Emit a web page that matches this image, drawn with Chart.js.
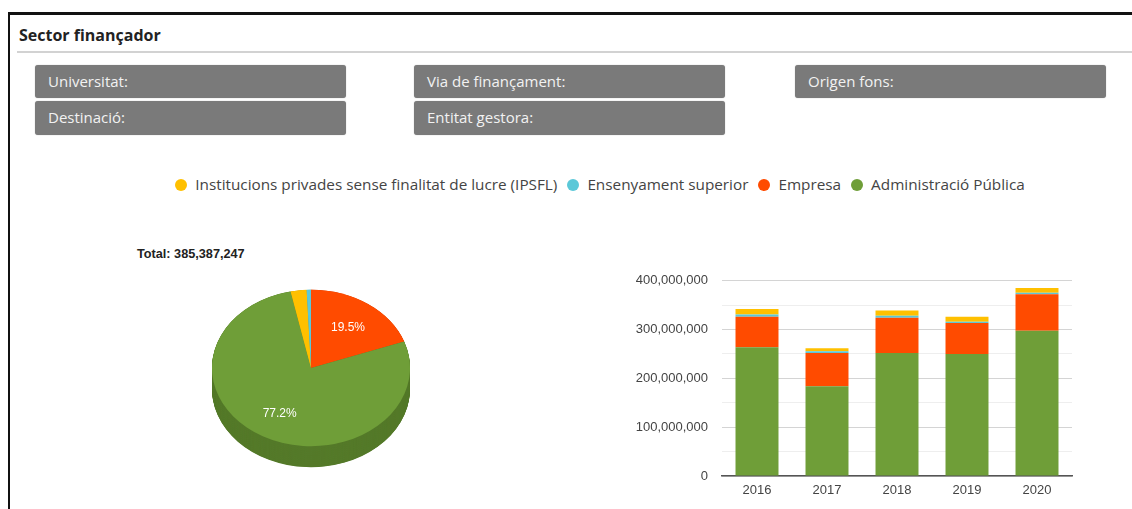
<!DOCTYPE html>
<html>
<head>
<meta charset="utf-8">
<script src="https://cdn.jsdelivr.net/npm/chart.js@4.4.1/dist/chart.umd.min.js"></script>
<style>
  body { margin: 0; background: #fff; width: 1132px; height: 509px; overflow: hidden; position: relative; font-family: 'Open Sans', sans-serif; }
  .frame { position: absolute; left: 8px; top: 12px; right: -20px; bottom: -20px; border-left: 2px solid #111; border-top: 3px solid #111; }
  .title { position: absolute; left: 19px; top: 24px; font-size: 16px; font-weight: 700; color: #222; }
  .rule { position: absolute; left: 17px; top: 51px; right: 0; height: 2px; background: #d2d2d2; }
  .filter { position: absolute; background: #7a7a7a; color: #f2f2f2; border-radius: 3px; font-size: 15px; line-height: 33px; height: 33px; padding-left: 13px; box-sizing: border-box; width: 311px; box-shadow: 0 0 1px #999; }
  .legend { position: absolute; left: 100px; width: 1000px; top: 174px; text-align: center; font-size: 15.3px; color: #444; white-space: nowrap; }
  .legend span.item { margin: 0 5px; }
  .legend i { display: inline-block; width: 12px; height: 12px; border-radius: 50%; margin-right: 8px; vertical-align: -1px; }
  .total { position: absolute; left: 137px; top: 247px; font-family: Arial, 'Liberation Sans', sans-serif; font-weight: bold; font-size: 12.7px; color: #222; }
  #pie { position: absolute; left: 201px; top: 258px; }
  #bars { position: absolute; left: 620px; top: 259px; }
</style>
</head>
<body>
<div class="frame"></div>
<div class="title">Sector finançador</div>
<div class="rule"></div>
<div class="filter" style="left:35px;top:65px;">Universitat:</div>
<div class="filter" style="left:35px;top:101px;height:34px;">Destinació:</div>
<div class="filter" style="left:414px;top:65px;">Via de finançament:</div>
<div class="filter" style="left:414px;top:101px;height:34px;">Entitat gestora:</div>
<div class="filter" style="left:795px;top:65px;">Origen fons:</div>
<div class="legend" id="legend"></div>
<div class="total" id="total"></div>
<canvas id="pie" width="220" height="220"></canvas>
<canvas id="bars" width="470" height="249"></canvas>
<script>
// dades
const years = ['2016', '2017', '2018', '2019', '2020'];
const sectors = ['Institucions privades sense finalitat de lucre (IPSFL)', 'Ensenyament superior', 'Empresa', 'Administració Pública'];
const sectorColors = ['#ffc000', '#5bc8d8', '#ff4b00', '#6f9e38'];
const sideColors = ['#c99800', '#4199a6', '#c23a00', '#557a2a'];

const ipsfl = [11000000, 6500000, 10500000, 10000000, 10018247];
const ensenyament = [4500000, 3500000, 4000000, 2500000, 2700000];
const empresa = [62500000, 68000000, 72500000, 63700000, 75150000];
const administracio = [264000000, 184000000, 252000000, 250000000, 297519000];
const seriesValues = [ipsfl, ensenyament, empresa, administracio];

const yTicks = ['0', '100,000,000', '200,000,000', '300,000,000', '400,000,000'];

// llegenda
const legendEl = document.getElementById('legend');
sectors.forEach(function(name, i) {
    const item = document.createElement('span');
    item.className = 'item';
    item.innerHTML = '<i style="background:' + sectorColors[i] + '"></i>' + name;
    legendEl.appendChild(item);
});

// pastís: últim any, començant per Empresa a les 12 en sentit horari
const last = years.length - 1;
const pieOrder = [2, 3, 0, 1];
const pieValues = pieOrder.map(i => seriesValues[i][last]);
const pieTotal = pieValues.reduce((a, b) => a + b, 0);
document.getElementById('total').textContent = 'Total: ' + pieTotal.toLocaleString('en-US');

const tilt = 0.79;
const depth = 21;

const pie3d = {
    id: 'pie3d',
    beforeDatasetsDraw(chart) {
        const ctx = chart.ctx;
        const arcs = chart.getDatasetMeta(0).data;
        const cx = arcs[0].x, cy = arcs[0].y;
        ctx.save();
        ctx.translate(cx, cy);
        ctx.scale(1, tilt);
        ctx.translate(-cx, -cy);
        // costat del pastís
        for (let d = depth / tilt; d > 0; d -= 0.5) {
            arcs.forEach(function(arc, i) {
                ctx.beginPath();
                ctx.moveTo(arc.x, arc.y + d);
                ctx.arc(arc.x, arc.y + d, arc.outerRadius, arc.startAngle, arc.endAngle);
                ctx.closePath();
                ctx.fillStyle = sideColors[pieOrder[i]];
                ctx.fill();
            });
        }
    },
    afterDatasetsDraw(chart) {
        const ctx = chart.ctx;
        ctx.restore();
        const arcs = chart.getDatasetMeta(0).data;
        ctx.save();
        ctx.font = '12px Arial, "Liberation Sans", sans-serif';
        ctx.fillStyle = '#fff';
        ctx.textAlign = 'center';
        ctx.textBaseline = 'middle';
        arcs.forEach(function(arc, i) {
            const pct = pieValues[i] / pieTotal * 100;
            if (pct < 5) return;
            const mid = (arc.startAngle + arc.endAngle) / 2;
            const r = arc.outerRadius * 0.65;
            const x = arc.x + Math.cos(mid) * r;
            const y = arc.y + Math.sin(mid) * r * tilt + 1;
            ctx.fillText(pct.toFixed(1) + '%', x, y);
        });
        ctx.restore();
    }
};

new Chart(document.getElementById('pie'), {
    type: 'pie',
    data: {
        labels: pieOrder.map(i => sectors[i]),
        datasets: [{
            data: pieValues,
            backgroundColor: pieOrder.map(i => sectorColors[i]),
            borderWidth: 0
        }]
    },
    options: {
        responsive: false,
        animation: false,
        layout: { padding: 11 },
        plugins: { legend: { display: false }, tooltip: { enabled: false } }
    },
    plugins: [pie3d]
});

// barres apilades
const stackOrder = [3, 2, 1, 0];
const tickFont = { family: 'Arial, "Liberation Sans", sans-serif', size: 13 };

new Chart(document.getElementById('bars'), {
    type: 'bar',
    data: {
        labels: years,
        datasets: stackOrder.map(i => ({
            label: sectors[i],
            data: seriesValues[i],
            backgroundColor: sectorColors[i],
            borderWidth: 0,
            categoryPercentage: 1,
            barPercentage: 0.614
        }))
    },
    options: {
        responsive: false,
        animation: false,
        layout: { padding: { top: 4, right: 18, bottom: 8, left: 0 } },
        plugins: { legend: { display: false }, tooltip: { enabled: false } },
        scales: {
            x: {
                stacked: true,
                grid: { display: false, drawTicks: false },
                border: { color: '#555', width: 1.5 },
                ticks: { color: '#444', font: tickFont, padding: 7 },
                afterFit(scale) { scale.height = 24; }
            },
            y: {
                stacked: true,
                min: 0,
                max: 400000000,
                border: { display: false },
                grid: {
                    drawTicks: false,
                    color: ctx => (ctx.tick && ctx.tick.value % 100000000 === 0) ? '#d4d4d4' : '#eeeeee'
                },
                ticks: {
                    stepSize: 50000000,
                    color: '#444',
                    font: tickFont,
                    padding: 14,
                    callback: v => v % 100000000 === 0 ? yTicks[v / 100000000] : ''
                },
                afterFit(scale) { scale.width = 102; }
            }
        }
    }
});
</script>
</body>
</html>
